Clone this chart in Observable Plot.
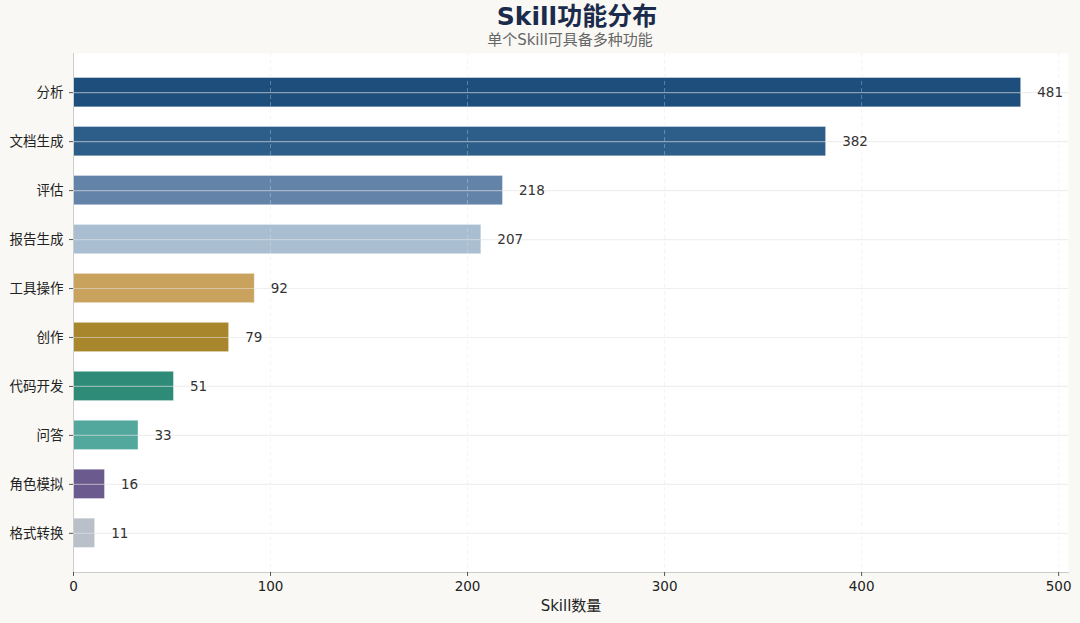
<!DOCTYPE html>
<html>
<head>
<meta charset="utf-8">
<script src="https://cdn.jsdelivr.net/npm/d3@7"></script>
<script src="https://cdn.jsdelivr.net/npm/@observablehq/plot@0.6"></script>
<style>
  html, body { margin: 0; padding: 0; background: #f9f8f4; }
  #wrap { position: relative; width: 1080px; height: 623px; font-family: "DejaVu Sans", "Noto Sans CJK SC", sans-serif; }
  #title { position: absolute; left: 0; width: 1154px; top: 4px; text-align: center; font-size: 25px; font-weight: bold; color: #1b2b4b; line-height: 25px; }
  #subtitle { position: absolute; left: 0; width: 1140px; top: 33px; text-align: center; font-size: 15px; color: #666; line-height: 15px; }
  svg { position: absolute; left: 0; top: 0; }
</style>
</head>
<body>
<div id="wrap">
  <div id="chart"></div>
  <div id="title">Skill功能分布</div>
  <div id="subtitle">单个Skill可具备多种功能</div>
</div>
<script>
const categories = ["分析", "文档生成", "评估", "报告生成", "工具操作", "创作", "代码开发", "问答", "角色模拟", "格式转换"];
const counts = [481, 382, 218, 207, 92, 79, 51, 33, 16, 11];
const colors = ["#1e4e7c", "#2d5d89", "#6384a8", "#a9bed1", "#c9a25e", "#a8862c", "#2e8b78", "#53a89e", "#6a5a8e", "#b9c0c9"];
const xTicks = [0, 100, 200, 300, 400, 500];

const data = categories.map((c, i) => ({category: c, count: counts[i], color: colors[i]}));

const chart = Plot.plot({
  width: 1080,
  height: 623,
  marginTop: 53,
  marginBottom: 51,
  marginLeft: 73,
  marginRight: 12,
  style: {background: "transparent", fontFamily: "'DejaVu Sans', 'Noto Sans CJK SC', sans-serif", fontSize: "13px", color: "#222"},
  x: {domain: [0, 505]},
  y: {type: "band", domain: categories, paddingInner: 0.4, paddingOuter: 0.5, round: false},
  marks: [
    Plot.frame({fill: "white"}),
    Plot.barX(data, {y: "category", x: "count", fill: "color", stroke: "white", strokeWidth: 0.8, strokeOpacity: 0.5}),
    Plot.gridY({stroke: "#e2e2e2", strokeOpacity: 0.55, strokeWidth: 1.2}),
    Plot.gridX(xTicks, {stroke: "#e2e2e2", strokeOpacity: 0.35, strokeDasharray: "4,3", strokeWidth: 1}),
    Plot.ruleX([0], {stroke: "#cccccc", strokeWidth: 1}),
    Plot.frame({anchor: "bottom", stroke: "#cccccc", strokeWidth: 1}),
    Plot.text(data, {y: "category", x: "count", text: d => String(d.count), dx: 16, textAnchor: "start", fill: "#333", fontSize: 13.5}),
    Plot.axisY({tickSize: 4, tickPadding: 6, stroke: "#555", fontSize: 13.5, label: null}),
    Plot.axisX(xTicks, {tickSize: 4, tickPadding: 5, stroke: "#555", fontSize: 13.5, label: "Skill数量", labelAnchor: "center", labelOffset: 38, labelArrow: "none"})
  ]
});
document.getElementById("chart").appendChild(chart);
chart.querySelectorAll("g[aria-label='x-axis label'] text").forEach(t => t.setAttribute("font-size", "15"));
</script>
</body>
</html>
